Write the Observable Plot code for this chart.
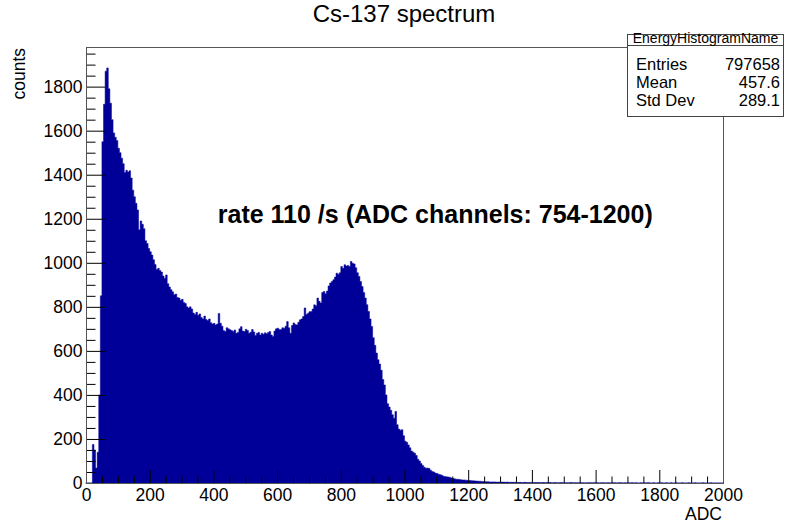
<!DOCTYPE html>
<html><head><meta charset="utf-8">
<script src="https://cdn.jsdelivr.net/npm/d3@7"></script>
<script src="https://cdn.jsdelivr.net/npm/@observablehq/plot@0.6"></script>
<style>body{margin:0;background:#fff;} svg{display:block}</style>
</head><body><div id="chart"></div>
<script>
// Histogram: bins of 5 ADC channels, starting at 0
const binWidth = 5;
const counts = [
  0,0,0,0,175,150,68,140,400,850,1550,1720,1870,1885,1790,1725,1650,1590,1570,1555,
  1520,1500,1475,1450,1410,1420,1412,1418,1385,1330,1300,1270,1240,1150,1190,1175,1155,1100,1088,1065,
  1050,1035,1014,992,970,975,965,958,940,930,945,905,890,878,868,855,858,842,840,830,
  834,820,815,800,795,800,790,772,765,775,762,768,752,745,758,742,738,745,728,722,
  725,718,722,770,725,712,692,688,705,700,696,692,688,695,680,684,700,710,690,688,
  698,693,680,685,697,686,670,680,684,672,680,675,682,678,684,688,672,665,690,700,
  703,697,697,705,703,712,733,705,680,715,727,720,718,730,741,745,756,795,765,771,
  778,779,790,809,805,840,825,818,865,870,860,872,895,908,915,923,935,953,948,955,
  983,975,991,985,988,983,1006,998,995,978,955,938,915,892,865,840,810,779,745,711,
  660,625,590,560,540,512,470,445,400,360,345,330,310,294,325,265,245,240,242,215,
  190,185,173,160,145,140,135,125,108,100,88,80,72,67,68,66,58,52,50,45,
  43,40,38,35,31,29,28,27,26,23,21,19,17,17,16,15,14,14,13,12,
  11,11,10,10,9,9,8,8,7,7,6,6,6,5,5,5,5,4,4,4,
  4,4,4,3,4,3,3,3,3,3,3,2,3,2,2,3,2,2,2,2,
  2,2,2,2,2,1,2,2,1,2,1,2,1,1,2,1,1,1,2,1,
  1,1,1,1,2,1,1,1,1,1,1,1,1,0,1,1,1,1,1,1,
  1,1,0,1,1,1,0,1,1,0,1,1,1,0,1,1,1,0,1,0,
  1,0,1,1,0,1,0,0,1,0,1,0,1,1,0,0,1,0,0,1,
  0,1,0,0,1,0,0,1,0,0,1,0,0,0,1,0,0,0,1,0,
  0,0,1,0,0,0,0,1,0,0,0,0,1,0,0,0,0,0,0,0
];
const binStarts = d3.range(0, 2000, binWidth);
const xMajor = d3.range(0, 2001, 200);
const xMinor = d3.range(0, 2001, 50).filter(v => v % 200 !== 0);
const yMajor = d3.range(0, 1801, 200);
const yMinor = d3.range(0, 1951, 50).filter(v => v % 200 !== 0);
const titleText = "Cs-137 spectrum";
const xLabel = "ADC";
const yLabel = "counts";
const rateText = ["rate 110 /s (ADC channels: 754-1200)"];
const rateX = [1095];
const rateY = [1220];
const statsName = "EnergyHistogramName";
const statsLabels = ["Entries", "Mean", "Std Dev"];
const statsValues = ["797658", "457.6", "289.1"];

const W = 786, H = 527;
const mL = 86, mR = 63, mT = 47, mB = 44;
const fw = W - mL - mR, fh = H - mT - mB;
const font = "'Liberation Sans', Arial, Helvetica, sans-serif";

const hist = binStarts.map((x, i) => ({x, y: counts[i]}));
hist.push({x: 2000, y: counts[counts.length - 1]});

const plot = Plot.plot({
  width: W, height: H,
  marginLeft: mL, marginRight: mR, marginTop: mT, marginBottom: mB,
  style: {fontFamily: font, background: "white", color: "black"},
  x: {domain: [0, 2000]},
  y: {domain: [0, 1980]},
  marks: [
    Plot.areaY(hist, {x: "x", y: "y", curve: "step-after", fill: "#000099", stroke: "#000099", strokeWidth: 0.5}),
    Plot.tickX(xMajor, {x: d => d, insetTop: fh - 13, stroke: "black"}),
    Plot.tickX(xMinor, {x: d => d, insetTop: fh - 6.5, stroke: "black"}),
    Plot.tickY(yMajor, {y: d => d, insetRight: fw - 19, stroke: "black"}),
    Plot.tickY(yMinor, {y: d => d, insetRight: fw - 9.5, stroke: "black"}),
    Plot.axisX({ticks: xMajor, tickSize: 0, tickPadding: 5, fontSize: 17.5, label: null, tickFormat: d => String(d)}),
    Plot.axisY({ticks: yMajor, tickSize: 0, tickPadding: 4, fontSize: 17.5, label: null, tickFormat: d => String(d)}),
    Plot.ruleX([0], {stroke: "black"}),
    Plot.ruleY([0], {stroke: "black"}),
    Plot.frame({stroke: "#555"}),
    Plot.text(rateText, {x: (d, i) => rateX[i], y: (d, i) => rateY[i], text: d => d, fontSize: 25, fontWeight: "bold", textAnchor: "middle", lineAnchor: "middle", fill: "black"})
  ]
});

const svg = d3.select(plot);
svg.append("text").attr("x", 404).attr("y", 22).attr("text-anchor", "middle")
  .attr("font-size", 24).attr("font-family", font).attr("fill", "black").text(titleText);
svg.append("text").attr("transform", "translate(24.5,48) rotate(-90)").attr("text-anchor", "end")
  .attr("font-size", 17.5).attr("font-family", font).attr("fill", "black").text(yLabel);
svg.append("text").attr("x", 722).attr("y", 520).attr("text-anchor", "end")
  .attr("font-size", 17.5).attr("font-family", font).attr("fill", "black").text(xLabel);

const box = svg.append("g").attr("font-family", font).attr("fill", "black");
box.append("rect").attr("x", 627.5).attr("y", 34.5).attr("width", 156).attr("height", 82)
  .attr("fill", "white").attr("stroke", "#444").attr("stroke-width", 1);
box.append("line").attr("x1", 627.5).attr("x2", 783.5).attr("y1", 45.5).attr("y2", 45.5)
  .attr("stroke", "#444").attr("stroke-width", 1);
box.append("text").attr("x", 705.5).attr("y", 43).attr("text-anchor", "middle")
  .attr("font-size", 14).text(statsName);
statsLabels.forEach((lab, i) => {
  box.append("text").attr("x", 636).attr("y", 70 + i * 18).attr("text-anchor", "start")
    .attr("font-size", 16.5).text(lab);
  box.append("text").attr("x", 780).attr("y", 70 + i * 18).attr("text-anchor", "end")
    .attr("font-size", 16.5).text(statsValues[i]);
});

document.getElementById("chart").appendChild(plot);
</script>
</body></html>
